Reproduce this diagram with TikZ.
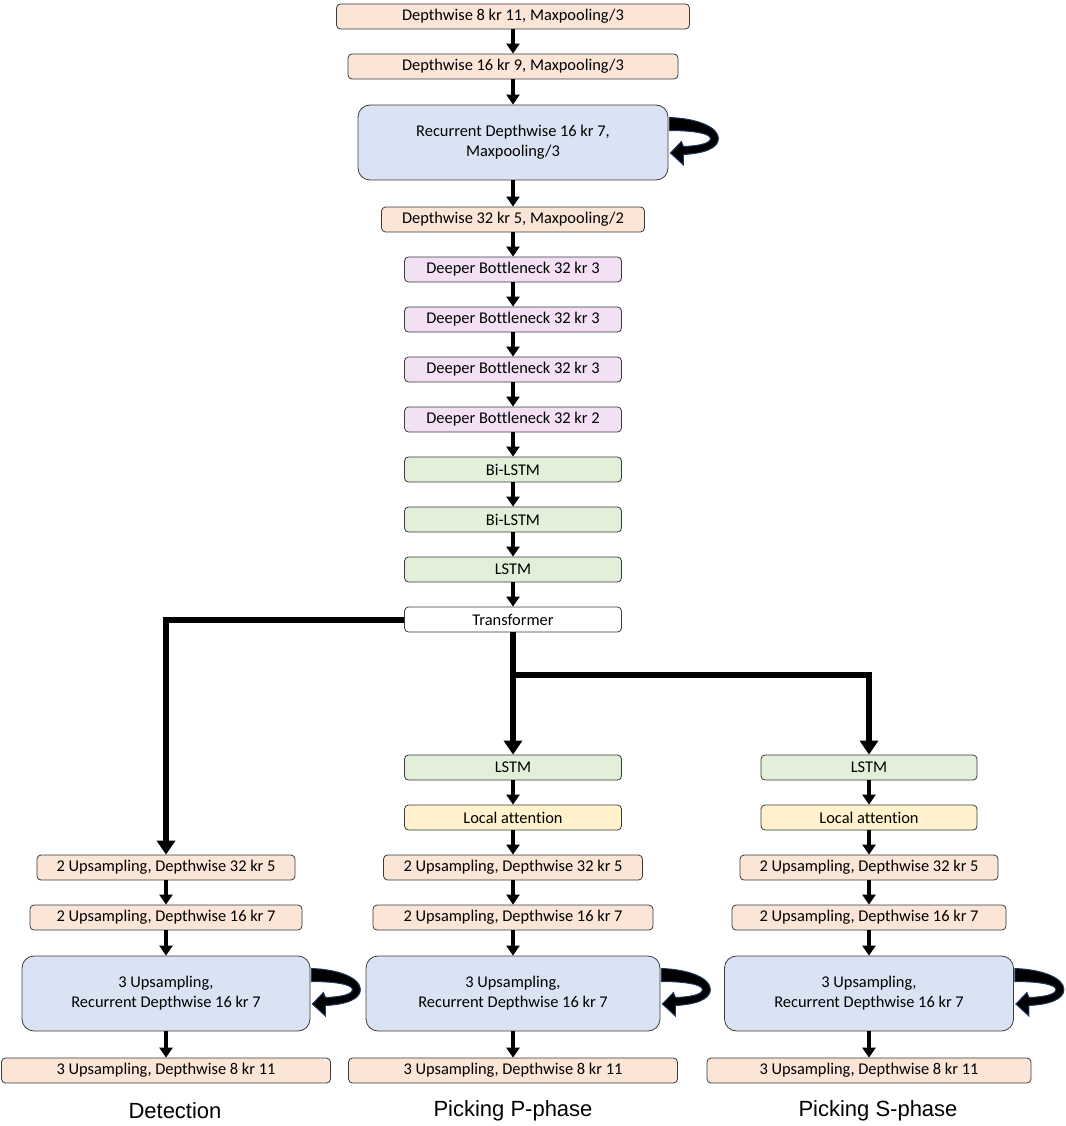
\documentclass[tikz,border=0pt]{standalone}
\usepackage{fontspec}
\setmainfont[Ligatures=NoCommon]{Carlito}
\newfontfamily\captionfont{Liberation Sans}
\usetikzlibrary{arrows.meta}

\definecolor{convfill}{HTML}{FBE5D6}
\definecolor{recfill}{HTML}{DAE3F3}
\definecolor{bneckfill}{HTML}{F3E0F5}
\definecolor{lstmfill}{HTML}{E2F0D9}
\definecolor{attnfill}{HTML}{FFF2CC}
\definecolor{edgegray}{HTML}{3A3A3A}
\definecolor{loopblue}{HTML}{1F3864}

% curved self loop on the right of a recurrent block
\newcommand{\recloop}[1]{%
  \filldraw[fill=black, draw=loopblue, line width=1pt, shift={(#1.east)}]
    (1,-25) .. controls (30,-24) and (50,-15) .. (50,-4)
    .. controls (50,6) and (35,11) .. (15,12)
    -- (15,22.5) -- (2,10.5) -- (13,-1) -- (15,4)
    .. controls (30,3.5) and (42,1) .. (42,-4)
    .. controls (42,-9) and (25,-12) .. (1,-12) -- cycle;}

\begin{document}
\begin{tikzpicture}[x=1pt, y=-1pt,
  blk/.style={draw=edgegray, line width=0.8pt, rounded corners=4pt, minimum height=25pt,
    inner sep=0pt, font=\fontsize{16.4}{20}\selectfont},
  conv/.style={blk, fill=convfill},
  rec/.style={blk, fill=recfill, rounded corners=12pt, minimum height=75pt, align=center},
  bneck/.style={blk, fill=bneckfill},
  lstm/.style={blk, fill=lstmfill},
  attn/.style={blk, fill=attnfill},
  flow/.style={line width=4pt, -{Triangle[length=10pt,width=13pt]}},
  branch/.style={line width=6pt, -{Triangle[length=14pt,width=18pt]}},
  caption/.style={font=\captionfont\fontsize{22}{26}\selectfont}]
\useasboundingbox (0,0) rectangle (1065,1126);

% encoder
\node[conv, minimum width=353pt] (c1) at (513,16.5) {Depthwise 8 kr 11, Maxpooling/3};
\node[conv, minimum width=330pt] (c2) at (513,66.5) {Depthwise 16 kr 9, Maxpooling/3};
\node[rec, minimum width=310pt] (r1) at (513,142.5) {Recurrent Depthwise 16 kr 7,\\Maxpooling/3};
\node[conv, minimum width=263pt] (c3) at (513,219.5) {Depthwise 32 kr 5, Maxpooling/2};
\node[bneck, minimum width=217pt] (n1) at (513,269.5) {Deeper Bottleneck 32 kr 3};
\node[bneck, minimum width=217pt] (n2) at (513,319.5) {Deeper Bottleneck 32 kr 3};
\node[bneck, minimum width=217pt] (n3) at (513,369.5) {Deeper Bottleneck 32 kr 3};
\node[bneck, minimum width=217pt] (n4) at (513,419.5) {Deeper Bottleneck 32 kr 2};
\node[lstm, minimum width=217pt] (l1) at (513,469.5) {Bi-LSTM};
\node[lstm, minimum width=217pt] (l2) at (513,519.5) {Bi-LSTM};
\node[lstm, minimum width=217pt] (l3) at (513,569.5) {LSTM};
\node[blk, fill=white, minimum width=217pt] (tr) at (513,619.5) {Transformer};

% detection decoder
\node[conv, minimum width=258pt] (d1) at (166,867.5) {2 Upsampling, Depthwise 32 kr 5};
\node[conv, minimum width=272pt] (d2) at (166,917.5) {2 Upsampling, Depthwise 16 kr 7};
\node[rec, minimum width=288pt] (d3) at (166,993.5) {3 Upsampling,\\Recurrent Depthwise 16 kr 7};
\node[conv, minimum width=329pt] (d4) at (166,1070.5) {3 Upsampling, Depthwise 8 kr 11};

% P-phase decoder
\node[lstm, minimum width=217pt] (pl) at (513,767.5) {LSTM};
\node[attn, minimum width=217pt] (pa) at (513,817.5) {Local attention};
\node[conv, minimum width=259pt] (p1) at (513,867.5) {2 Upsampling, Depthwise 32 kr 5};
\node[conv, minimum width=280pt] (p2) at (513,917.5) {2 Upsampling, Depthwise 16 kr 7};
\node[rec, minimum width=294pt] (p3) at (513,993.5) {3 Upsampling,\\Recurrent Depthwise 16 kr 7};
\node[conv, minimum width=329pt] (p4) at (513,1070.5) {3 Upsampling, Depthwise 8 kr 11};

% S-phase decoder
\node[lstm, minimum width=216pt] (sl) at (869,767.5) {LSTM};
\node[attn, minimum width=216pt] (sa) at (869,817.5) {Local attention};
\node[conv, minimum width=258pt] (s1) at (869,867.5) {2 Upsampling, Depthwise 32 kr 5};
\node[conv, minimum width=274pt] (s2) at (869,917.5) {2 Upsampling, Depthwise 16 kr 7};
\node[rec, minimum width=289pt] (s3) at (869,993.5) {3 Upsampling,\\Recurrent Depthwise 16 kr 7};
\node[conv, minimum width=324pt] (s4) at (869,1070.5) {3 Upsampling, Depthwise 8 kr 11};

% captions
\node[caption] (capd) at (175,1111) {Detection};
\node[caption] (capp) at (513,1111) {Picking P-phase};
\node[caption] (caps) at (878,1111) {Picking S-phase};

% connectors
\foreach \a/\b in {c1/c2, c2/r1, r1/c3, c3/n1, n1/n2, n2/n3, n3/n4, n4/l1, l1/l2, l2/l3, l3/tr,
    d1/d2, d2/d3, d3/d4, pl/pa, pa/p1, p1/p2, p2/p3, p3/p4, sl/sa, sa/s1, s1/s2, s2/s3, s3/s4}
  \draw[flow] (\a) -- (\b);

\coordinate (split) at (513,675);
\draw[branch] (tr.west) -| (d1.north);
\draw[branch] (tr.south) -- (pl.north);
\draw[branch] (split) -| (sl.north);

% recurrent loops
\recloop{r1}
\recloop{d3}
\recloop{p3}
\recloop{s3}
\end{tikzpicture}
\end{document}
